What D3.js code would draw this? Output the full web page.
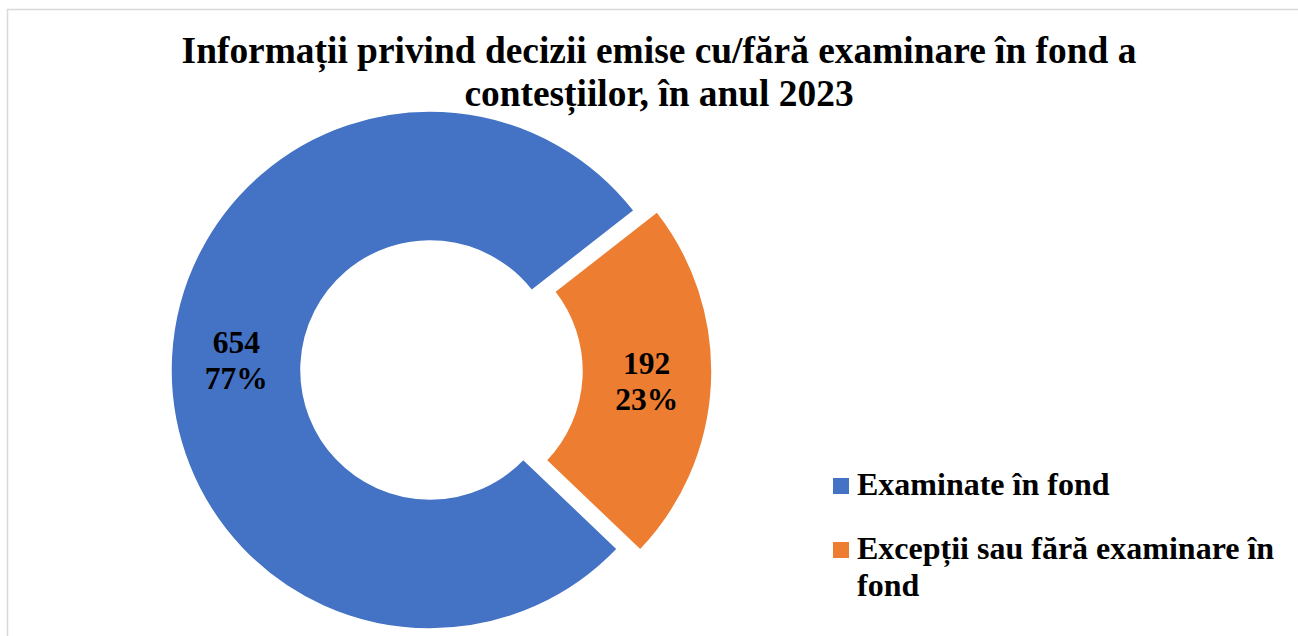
<!DOCTYPE html>
<html>
<head>
<meta charset="utf-8">
<script src="https://cdn.jsdelivr.net/npm/d3@7"></script>
<style>
	body { margin: 0; background: #fff; }
	svg { display: block; }
	text { font-family: "Liberation Serif", "Times New Roman", serif; font-weight: bold; fill: #000; }
</style>
</head>
<body>
<script>
	// Data
	let categories = ['Examinate în fond', 'Excepții sau fără examinare în fond'];
	let values = [654, 192];
	let colors = ['#4472C4', '#ED7D31'];
	let titleLines = ['Informații privind decizii emise cu/fără examinare în fond a', 'contesțiilor, în anul 2023'];
	let legendLines = [['Examinate în fond'], ['Excepții sau fără examinare în', 'fond']];

	let width = 1298,
		height = 636,
		center = {x: 430, y: 370},
		outerR = 259,
		innerR = 129,
		explode = [0, 23],
		startAngle = 133.7 * Math.PI / 180;

	let svg = d3.select('body').append('svg')
		.attr('width', width)
		.attr('height', height);

	// Chart border
	svg.append('path')
		.attr('d', 'M7.5,' + height + 'V9.5H' + width)
		.attr('fill', 'none')
		.attr('stroke', '#d9d9d9')
		.attr('stroke-width', 1.5);

	// Title
	svg.append('text')
		.attr('text-anchor', 'middle')
		.style('font-size', '37.4px')
		.selectAll('tspan')
		.data(titleLines).enter()
			.append('tspan')
			.attr('x', 659)
			.attr('y', (d, i) => 63 + i * 43)
			.text(d => d);

	let total = d3.sum(values);
	let pie = d3.pie()
		.sort(null)
		.startAngle(startAngle)
		.endAngle(startAngle + 2 * Math.PI);
	let arc = d3.arc()
		.innerRadius(innerR)
		.outerRadius(outerR);

	let arcs = pie(values);

	let slices = svg.append('g')
		.attr('transform', 'translate(' + center.x + ',' + center.y + ')')
		.selectAll('g')
		.data(arcs).enter()
			.append('g')
			.attr('transform', function(d, i){
				let mid = (d.startAngle + d.endAngle) / 2;
				return 'translate(' + (explode[i] * Math.sin(mid)) + ',' + (-explode[i] * Math.cos(mid)) + ')';
			});

	slices.append('path')
		.attr('d', arc)
		.attr('fill', (d, i) => colors[i])
		.attr('stroke', '#fff')
		.attr('stroke-width', 1.5);

	// Labels: value and percent
	slices.append('text')
		.attr('text-anchor', 'middle')
		.style('font-size', '31.5px')
		.each(function(d){
			let c = arc.centroid(d);
			let t = d3.select(this);
			t.append('tspan')
				.attr('x', c[0])
				.attr('y', c[1] - 7)
				.text(d.data);
			t.append('tspan')
				.attr('x', c[0])
				.attr('y', c[1] + 29)
				.text(Math.round(d.data / total * 100) + '%');
		});

	// Legend
	let legend = svg.append('g')
		.selectAll('g')
		.data(categories).enter()
			.append('g')
			.attr('transform', (d, i) => 'translate(833,' + (478 + i * 64) + ')');

	legend.append('rect')
		.attr('width', 16)
		.attr('height', 16)
		.attr('fill', (d, i) => colors[i]);

	legend.append('text')
		.style('font-size', '32px')
		.selectAll('tspan')
		.data((d, i) => legendLines[i]).enter()
			.append('tspan')
			.attr('x', 24)
			.attr('y', (d, i) => 17 + i * 37)
			.text(d => d);
</script>
</body>
</html>
